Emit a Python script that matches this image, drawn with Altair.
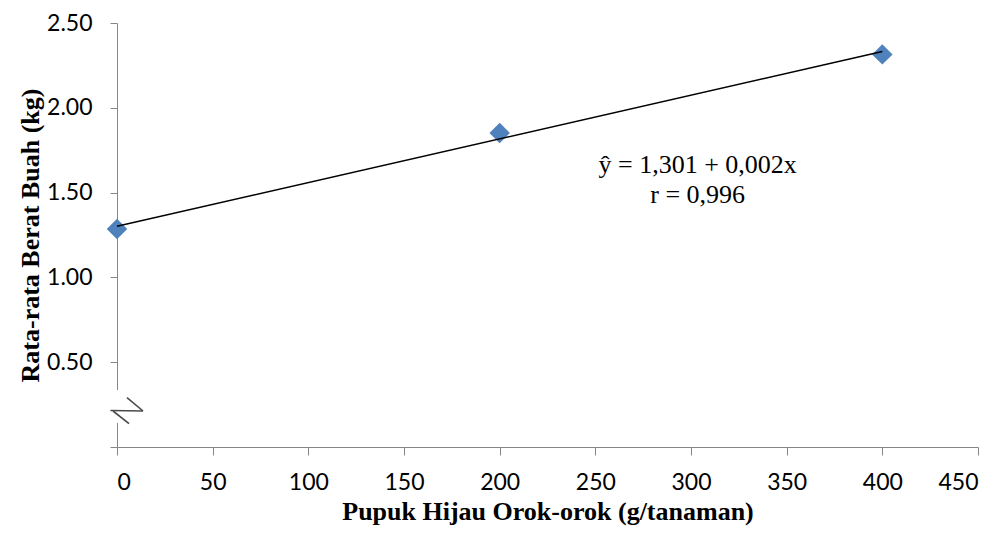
import altair as alt
import pandas as pd

# data
dose = [0, 200, 400]
weight = [1.285, 1.851, 2.315]
x_ticks = [0, 50, 100, 150, 200, 250, 300, 350, 400, 450]
y_ticks = [0, 0.5, 1.0, 1.5, 2.0, 2.5]
eq_lines = ["ŷ = 1,301 + 0,002x", "r = 0,996"]
eq_pos_x = [303.5]
eq_pos_y = [1.614]

df = pd.DataFrame({"dose": dose, "weight": weight})

AXIS_GREY = "#868686"
BLUE = "#4F81BD"

x_enc = alt.X(
    "dose:Q",
    scale=alt.Scale(domain=[0, 450], nice=False, zero=False),
    axis=alt.Axis(
        values=x_ticks,
        title="Pupuk Hijau Orok-orok (g/tanaman)",
        grid=False,
        domainColor=AXIS_GREY,
        tickColor=AXIS_GREY,
        tickSize=8,
        labelPadding=16,
        labelFont="Lato",
        labelFontSize=23,
        labelColor="black",
        titleFont="Liberation Serif",
        titleFontWeight="bold",
        titleFontSize=26,
        titleColor="black",
        titleBaseline="alphabetic",
        titleY=72,
    ),
)
y_enc = alt.Y(
    "weight:Q",
    scale=alt.Scale(domain=[0, 2.5], nice=False),
    axis=alt.Axis(
        values=y_ticks,
        labelExpr="datum.value == 0 ? '' : format(datum.value, '.2f')",
        title="Rata-rata Berat Buah (kg)",
        grid=False,
        domainColor=AXIS_GREY,
        tickColor=AXIS_GREY,
        tickSize=7,
        labelPadding=18,
        labelFont="Lato",
        labelFontSize=23,
        labelColor="black",
        titleFont="Liberation Serif",
        titleFontWeight="bold",
        titleFontSize=26,
        titleColor="black",
        titleX=-87,
        titleY=212,
        titleAlign="center",
        titleBaseline="middle",
    ),
)

base = alt.Chart(df)

points = base.mark_point(shape="diamond", filled=True, size=420, color=BLUE, opacity=1).encode(
    x=x_enc, y=y_enc
)

trend = base.transform_regression("dose", "weight").mark_line(
    color="black", strokeWidth=1.5
).encode(x="dose:Q", y="weight:Q")

ann_df = pd.DataFrame({"x": eq_pos_x, "y": eq_pos_y, "t": [eq_lines]})
annotation = alt.Chart(ann_df).mark_text(
    font="Liberation Serif", fontSize=26, color="black", align="center",
    baseline="alphabetic", lineHeight=30,
).encode(x="x:Q", y="y:Q", text="t")

# axis break decoration
one = pd.DataFrame({"k": [0]})
mask = alt.Chart(one).mark_rect(color="white").encode(
    x=alt.value(-4), x2=alt.value(4), y=alt.value(367), y2=alt.value(400)
)
brk_color = "#4a4a4a"
b1 = alt.Chart(one).mark_rule(color=brk_color, strokeWidth=1.6).encode(
    x=alt.value(10), x2=alt.value(26), y=alt.value(374.6), y2=alt.value(388)
)
b2 = alt.Chart(one).mark_rule(color=brk_color, strokeWidth=1.6).encode(
    x=alt.value(-6.6), x2=alt.value(26), y=alt.value(387.5), y2=alt.value(388)
)
b3 = alt.Chart(one).mark_rule(color=brk_color, strokeWidth=1.6).encode(
    x=alt.value(-4), x2=alt.value(12), y=alt.value(388), y2=alt.value(400.6)
)

chart = alt.layer(points, trend, annotation, mask, b1, b2, b3).properties(
    width=861,
    height=424,
    padding={"left": 109, "top": 15, "right": 18, "bottom": 80},
    autosize=alt.AutoSizeParams(type="none"),
    background="white",
).configure_view(stroke=None)

chart.save("out.html", embed_options={"renderer": "svg", "actions": False})
